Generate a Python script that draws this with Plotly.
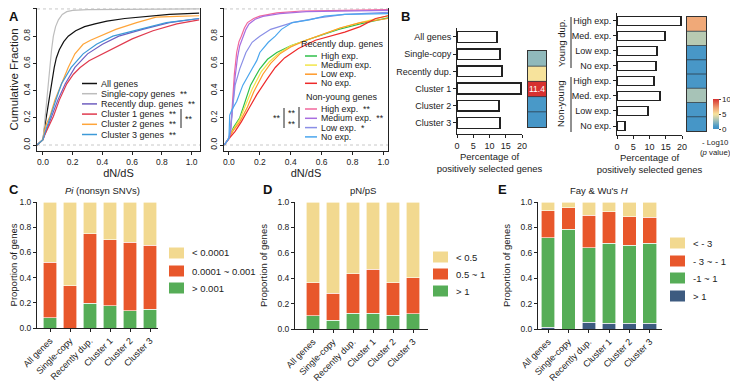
import plotly.graph_objects as go

# The page body keeps the browser's default 8px margin, so the figure is sized to fit the
# 738x384 window after that offset and all layout positions are given in window pixels.
OFF = 8
W, H = 738 - OFF, 384 - OFF
def px(x): return min(1.0, max(0.0, (x - OFF) / W))
def py(y): return min(1.0, max(0.0, 1 - (y - OFF) / H))

FONT = "Liberation Sans, Arial, sans-serif"
INK = "#222222"

# ---------------- Panel A (left): cumulative fraction of dN/dS ----------------
all_x = [-0.04, 0, 0.01, 0.02, 0.03, 0.042, 0.06, 0.076, 0.09, 0.11, 0.14, 0.17, 0.22, 0.28, 0.35, 0.43, 0.55, 0.7, 0.85, 1.05]
all_y = [0, 0.04, 0.12, 0.19, 0.26, 0.33, 0.46, 0.57, 0.64, 0.70, 0.76, 0.80, 0.84, 0.87, 0.89, 0.91, 0.93, 0.945, 0.96, 0.97]
single_x = [-0.04, 0, 0.01, 0.025, 0.035, 0.047, 0.058, 0.07, 0.085, 0.104, 0.13, 0.16, 0.2, 0.3, 1.05]
single_y = [0, 0.04, 0.15, 0.33, 0.46, 0.57, 0.70, 0.80, 0.87, 0.92, 0.96, 0.98, 0.99, 0.995, 1.0]
recent_x = [-0.04, 0, 0.01, 0.03, 0.06, 0.1, 0.15, 0.215, 0.3, 0.4, 0.51, 0.67, 0.85, 1.05]
recent_y = [0, 0.04, 0.07, 0.13, 0.22, 0.33, 0.45, 0.57, 0.67, 0.74, 0.80, 0.85, 0.90, 0.93]
c1_x = [-0.04, 0, 0.01, 0.03, 0.07, 0.11, 0.16, 0.205, 0.25, 0.31, 0.38, 0.45, 0.6, 0.74, 0.9, 1.05]
c1_y = [0, 0.04, 0.07, 0.12, 0.21, 0.33, 0.45, 0.52, 0.57, 0.62, 0.66, 0.70, 0.78, 0.84, 0.89, 0.92]
c2_x = [-0.04, 0, 0.01, 0.025, 0.047, 0.08, 0.125, 0.17, 0.215, 0.27, 0.32, 0.38, 0.49, 0.63, 0.76, 0.9, 1.05]
c2_y = [0, 0.04, 0.10, 0.16, 0.21, 0.33, 0.45, 0.57, 0.67, 0.74, 0.77, 0.80, 0.85, 0.90, 0.94, 0.945, 0.95]
c3_x = [-0.04, 0, 0.01, 0.03, 0.06, 0.09, 0.125, 0.19, 0.27, 0.36, 0.47, 0.65, 0.83, 1.05]
c3_y = [0, 0.04, 0.08, 0.14, 0.24, 0.34, 0.45, 0.57, 0.67, 0.74, 0.80, 0.85, 0.90, 0.93]

a_left_names = ["All genes", "Single-copy genes", "Recently dup. genes", "Cluster 1 genes", "Cluster 2 genes", "Cluster 3 genes"]
a_left_stars = ["", "**", "**", "**", "**", "**"]
a_left_colors = ["#111111", "#bdbdbd", "#6f5fc0", "#e03a4e", "#ffa53a", "#3d9ad8"]
a_left_x = [all_x, single_x, recent_x, c1_x, c2_x, c3_x]
a_left_y = [all_y, single_y, recent_y, c1_y, c2_y, c3_y]

# ---------------- Panel A (right) ----------------
rh_x = [-0.03, 0, 0.01, 0.03, 0.07, 0.104, 0.14, 0.2, 0.25, 0.31, 0.4, 0.5, 0.58, 0.71, 0.85, 1.03]
rh_y = [0, 0.05, 0.08, 0.13, 0.2, 0.32, 0.44, 0.56, 0.63, 0.68, 0.73, 0.77, 0.80, 0.85, 0.89, 0.935]
rm_x = [-0.03, 0, 0.01, 0.03, 0.07, 0.11, 0.15, 0.21, 0.26, 0.32, 0.4, 0.5, 0.6, 0.72, 0.85, 1.03]
rm_y = [0, 0.05, 0.08, 0.12, 0.19, 0.30, 0.41, 0.54, 0.61, 0.67, 0.73, 0.77, 0.81, 0.86, 0.90, 0.95]
rl_x = [-0.03, 0, 0.01, 0.03, 0.07, 0.12, 0.16, 0.22, 0.27, 0.33, 0.4, 0.5, 0.6, 0.72, 0.85, 1.03]
rl_y = [0, 0.05, 0.07, 0.11, 0.17, 0.28, 0.39, 0.52, 0.60, 0.67, 0.72, 0.77, 0.81, 0.86, 0.90, 0.93]
rn_x = [-0.03, 0, 0.01, 0.04, 0.08, 0.13, 0.18, 0.25, 0.3, 0.36, 0.45, 0.56, 0.65, 0.75, 0.85, 0.95, 1.03]
rn_y = [0, 0.05, 0.06, 0.1, 0.17, 0.27, 0.37, 0.49, 0.57, 0.64, 0.71, 0.77, 0.80, 0.83, 0.87, 0.93, 0.95]
nh_x = [-0.03, 0, 0.01, 0.022, 0.035, 0.05, 0.065, 0.08, 0.1, 0.12, 0.16, 0.2, 0.31, 0.47, 0.7, 1.03]
nh_y = [0, 0.05, 0.09, 0.32, 0.52, 0.68, 0.76, 0.80, 0.86, 0.90, 0.93, 0.947, 0.971, 0.985, 0.99, 0.995]
nm_x = [-0.03, 0, 0.01, 0.025, 0.04, 0.055, 0.07, 0.09, 0.11, 0.13, 0.17, 0.22, 0.33, 0.5, 0.7, 1.03]
nm_y = [0, 0.05, 0.09, 0.30, 0.50, 0.64, 0.73, 0.79, 0.85, 0.89, 0.925, 0.945, 0.965, 0.98, 0.985, 0.99]
nl_x = [-0.03, 0, 0.01, 0.025, 0.04, 0.07, 0.11, 0.15, 0.2, 0.27, 0.41, 0.58, 0.75, 1.03]
nl_y = [0, 0.05, 0.12, 0.28, 0.44, 0.56, 0.68, 0.755, 0.80, 0.85, 0.90, 0.935, 0.96, 0.975]
nn_x = [-0.03, 0, 0.005, 0.02, 0.05, 0.09, 0.15, 0.18, 0.2, 0.255, 0.3, 0.34, 0.41, 0.52, 0.62, 0.75, 1.03]
nn_y = [0, 0.05, 0.22, 0.26, 0.32, 0.44, 0.56, 0.62, 0.68, 0.755, 0.80, 0.85, 0.90, 0.92, 0.947, 0.96, 0.965]

a_right_recent_names = ["High exp.", "Medium exp.", "Low exp.", "No exp."]
a_right_recent_colors = ["#2fbf4a", "#f2e54a", "#ff9a2a", "#ee2a2a"]
a_right_recent_x = [rh_x, rm_x, rl_x, rn_x]
a_right_recent_y = [rh_y, rm_y, rl_y, rn_y]
a_right_non_names = ["High exp.", "Medium exp.", "Low exp.", "No exp."]
a_right_non_stars = ["**", "**", "*", ""]
a_right_non_colors = ["#f2679c", "#a86ee0", "#8a8fe6", "#4aa6ee"]
a_right_non_x = [nh_x, nm_x, nl_x, nn_x]
a_right_non_y = [nh_y, nm_y, nl_y, nn_y]

# ---------------- Panel B ----------------
b_left_cats = ["All genes", "Single-copy", "Recently dup.", "Cluster 1", "Cluster 2", "Cluster 3"]
b_left_vals = [12.3, 13.2, 13.8, 19.7, 12.9, 13.2]
b_left_heat_rows = ["Single-copy", "Recently dup.", "Cluster 1", "Cluster 2", "Cluster 3"]
b_left_heat_vals = [2.5, 5.0, 11.4, 0.8, 0.6]

b_right_cats = ["High exp.", "Med. exp.", "Low exp.", "No exp.", "High exp.", "Med. exp.", "Low exp.", "No exp."]
b_right_vals = [19.7, 14.8, 12.3, 12.0, 11.4, 13.2, 9.6, 2.4]
b_right_heat_vals = [6.8, 3.4, 0.7, 0.7, 0.7, 3.0, 0.7, 0.6]

heat_scale = [[0.0, "#3d8fc6"], [0.1, "#4c9bc8"], [0.3, "#a7c3b7"], [0.45, "#e7dca4"],
              [0.5, "#f7e39c"], [0.7, "#efa274"], [1.0, "#d7312f"]]

# ---------------- Panels C, D, E ----------------
groups = ["All genes", "Single-copy", "Recently dup.", "Cluster 1", "Cluster 2", "Cluster 3"]
YEL, RED, GRN, NAV = "#f2d990", "#e8572b", "#56ad57", "#3d5b80"

pi_names = ["< 0.0001", "0.0001 ~ 0.001", "> 0.001"]
pi_low = [0.48, 0.665, 0.25, 0.30, 0.32, 0.345]
pi_mid = [0.44, 0.335, 0.555, 0.525, 0.545, 0.505]
pi_high = [0.08, 0.0, 0.195, 0.175, 0.135, 0.15]

pnps_names = ["< 0.5", "0.5 ~ 1", "> 1"]
pnps_low = [0.635, 0.72, 0.565, 0.53, 0.635, 0.595]
pnps_mid = [0.26, 0.21, 0.31, 0.345, 0.255, 0.285]
pnps_high = [0.105, 0.07, 0.125, 0.125, 0.11, 0.12]

h_names = ["< - 3", "- 3 ~ - 1", "-1 ~ 1", "> 1"]
h_lt3 = [0.07, 0.045, 0.105, 0.075, 0.115, 0.12]
h_3to1 = [0.21, 0.17, 0.255, 0.25, 0.225, 0.205]
h_1to1 = [0.705, 0.785, 0.585, 0.63, 0.615, 0.63]
h_gt1 = [0.015, 0.0, 0.055, 0.045, 0.045, 0.045]

fig = go.Figure()
shapes, annos = [], []

def txt(x, y, s, size=9, xa="left", ya="middle", angle=0, color=INK, bold=False):
    if bold:
        s = "<b>" + s + "</b>"
    annos.append(dict(x=px(x), y=py(y), xref="paper", yref="paper", text=s, showarrow=False,
                      xanchor=xa, yanchor=ya, textangle=angle, borderpad=0,
                      font=dict(size=size, color=color)))

def pline(x0, y0, x1, y1, color=INK, width=1, dash="solid"):
    shapes.append(dict(type="line", xref="paper", yref="paper", x0=px(x0), y0=py(y0), x1=px(x1), y1=py(y1),
                       line=dict(color=color, width=width, dash=dash)))

def prect(x0, y0, x1, y1, color):
    shapes.append(dict(type="rect", xref="paper", yref="paper", x0=px(x0), y0=py(y0), x1=px(x1), y1=py(y1),
                       line=dict(width=0), fillcolor=color))

# A traces
for xs, ys, c in zip(a_left_x, a_left_y, a_left_colors):
    fig.add_trace(go.Scatter(x=xs, y=ys, mode="lines", line=dict(color=c, width=1.2),
                             xaxis="x", yaxis="y", showlegend=False, hoverinfo="skip"))
for xs, ys, c in zip(a_right_recent_x, a_right_recent_y, a_right_recent_colors):
    fig.add_trace(go.Scatter(x=xs, y=ys, mode="lines", line=dict(color=c, width=1.2),
                             xaxis="x2", yaxis="y2", showlegend=False, hoverinfo="skip"))
for xs, ys, c in zip(a_right_non_x, a_right_non_y, a_right_non_colors):
    fig.add_trace(go.Scatter(x=xs, y=ys, mode="lines", line=dict(color=c, width=1.2),
                             xaxis="x2", yaxis="y2", showlegend=False, hoverinfo="skip"))

for xr, yr in (("x", "y"), ("x2", "y2")):
    for v in (0, 1):
        shapes.append(dict(type="line", xref=xr + " domain", yref=yr, x0=0, x1=1, y0=v, y1=v, layer="below",
                           line=dict(color="#c8c8c8", width=1, dash="dot")))

# A-left legend
for i, (n, s, c) in enumerate(zip(a_left_names, a_left_stars, a_left_colors)):
    yy = 83.5 + 10.2 * i
    pline(82, yy, 97, yy, c, 1.5)
    txt(100, yy, n + ("  " + s if s else ""), 9)
pline(181, 109, 181, 128)
txt(184, 118.5, "**", 9)

# A-right legend
txt(300, 44, "Recently dup. genes", 9)
for i, (n, c) in enumerate(zip(a_right_recent_names, a_right_recent_colors)):
    yy = 56 + 9.1 * i
    pline(305, yy, 317, yy, c, 1.5)
    txt(320, yy, n, 8.8)
txt(305, 97, "Non-young genes", 9)
for i, (n, s, c) in enumerate(zip(a_right_non_names, a_right_non_stars, a_right_non_colors)):
    yy = 109 + 9.3 * i
    pline(305, yy, 317, yy, c, 1.5)
    txt(320, yy, n + ("  " + s if s else ""), 8.8)
txt(282, 118, "**", 9, xa="right")
pline(284, 108, 284, 128)
pline(299, 107, 299, 128)
txt(297, 113, "**", 9, xa="right")
txt(297, 124, "**", 9, xa="right")

# B bars
fig.add_trace(go.Bar(y=list(range(len(b_left_cats))), x=b_left_vals, orientation="h", width=0.62,
                     marker=dict(color="white", line=dict(color=INK, width=1.5)),
                     xaxis="x3", yaxis="y3", showlegend=False, hoverinfo="skip"))
fig.add_trace(go.Heatmap(z=[[v] for v in b_left_heat_vals], x=[0], y=list(range(len(b_left_heat_vals))),
                         coloraxis="coloraxis", xaxis="x4", yaxis="y4", hoverinfo="skip"))
fig.add_trace(go.Bar(y=list(range(len(b_right_cats))), x=b_right_vals, orientation="h", width=0.62,
                     marker=dict(color="white", line=dict(color=INK, width=1.5)),
                     xaxis="x5", yaxis="y5", showlegend=False, hoverinfo="skip"))
fig.add_trace(go.Heatmap(z=[[v] for v in b_right_heat_vals], x=[0], y=list(range(len(b_right_heat_vals))),
                         coloraxis="coloraxis", xaxis="x6", yaxis="y6", hoverinfo="skip"))

for xr, yr, n in (("x4", "y4", len(b_left_heat_vals)), ("x6", "y6", len(b_right_heat_vals))):
    for i in range(n - 1):
        shapes.append(dict(type="line", xref=xr, yref=yr, x0=-0.5, x1=0.5, y0=i + 0.5, y1=i + 0.5,
                           line=dict(color="#2b3a48", width=0.8)))
imax = b_left_heat_vals.index(max(b_left_heat_vals))
annos.append(dict(x=0, y=imax, xref="x4", yref="y4", text=f"{b_left_heat_vals[imax]:.1f}", showarrow=False,
                  font=dict(size=8.5, color="white")))

# B-right group brackets
pline(571, 17, 571, 68)
pline(571, 77, 571, 132)
txt(561, 43, "Young dup.", 9.5, xa="center", angle=-90)
txt(561, 104, "Non-young", 9.5, xa="center", angle=-90)
txt(715, 142, "- Log10", 7.8, xa="center")
txt(715, 152, "(<i>p</i> value)", 7.8, xa="center")

# C, D, E stacked bars
def stack(xr, yr, segs):
    for vals, c in segs:
        fig.add_trace(go.Bar(x=groups, y=vals, marker=dict(color=c, line=dict(color="white", width=0.6)),
                             width=0.67, xaxis=xr, yaxis=yr, showlegend=False, hoverinfo="skip"))

stack("x7", "y7", [(pi_high, GRN), (pi_mid, RED), (pi_low, YEL)])
stack("x8", "y8", [(pnps_high, GRN), (pnps_mid, RED), (pnps_low, YEL)])
stack("x9", "y9", [(h_gt1, NAV), (h_1to1, GRN), (h_3to1, RED), (h_lt3, YEL)])

def box_legend(x0, ys, names, colors):
    for yy, n, c in zip(ys, names, colors):
        prect(x0, yy - 5.5, x0 + 15, yy + 5.5, c)
        txt(x0 + 22, yy, n, 9.5)

box_legend(169, [253, 271, 288], pi_names, [YEL, RED, GRN])
box_legend(433, [257, 274, 291], pnps_names, [YEL, RED, GRN])
box_legend(670, [243, 261, 278, 296], h_names, [YEL, RED, GRN, NAV])

txt(102, 190, "<i>Pi</i> (nonsyn SNVs)", 9.5, xa="center")
txt(363, 190, "pN/pS", 9.5, xa="center")
txt(599, 190, "Fay &amp; Wu's <i>H</i>", 9.5, xa="center")

# panel letters
for L, x, y in (("A", 8, 16), ("B", 400, 16), ("C", 8, 189), ("D", 262, 189), ("E", 497, 189)):
    txt(x, y, L, 13, bold=True, color="#111")

def axbase(**kw):
    d = dict(showline=True, linecolor=INK, linewidth=1, ticks="outside", ticklen=3, tickwidth=1,
             tickcolor=INK, showgrid=False, zeroline=False, tickfont=dict(size=8.5, color=INK),
             fixedrange=True, automargin=False)
    d.update(kw)
    return d

ttl = lambda s, size=11, st=4: dict(text=s, font=dict(size=size, color=INK), standoff=st)

layout = dict(
    width=W, height=H, autosize=False, margin=dict(l=0, r=0, t=0, b=0, pad=0, autoexpand=False),
    paper_bgcolor="white", plot_bgcolor="white", barmode="stack", bargap=0.3,
    font=dict(family=FONT, color=INK),
    showlegend=False,
    # A-left
    xaxis=axbase(domain=[px(37), px(200)], range=[-0.04, 1.056], tickvals=[0, 0.2, 0.4, 0.6, 0.8, 1.0],
                 tickformat=".1f", mirror=True, anchor="y", title=ttl("dN/dS", 11, 3)),
    yaxis=axbase(domain=[py(151), py(8)], range=[-0.044, 1.007], tickvals=[0, 0.2, 0.4, 0.6, 0.8, 1.0],
                 tickformat=".1f", tickangle=-90, mirror=True, anchor="x", title=ttl("Cumulative Fraction", 11.5, 5)),
    # A-right
    xaxis2=axbase(domain=[px(224), px(388)], range=[-0.032, 1.03], tickvals=[0, 0.2, 0.4, 0.6, 0.8, 1.0],
                  tickformat=".1f", mirror=True, anchor="y2", title=ttl("dN/dS", 11, 3)),
    yaxis2=axbase(domain=[py(151), py(8)], range=[-0.044, 1.007], tickvals=[0, 0.2, 0.4, 0.6, 0.8, 1.0],
                  tickformat=".1f", tickangle=-90, mirror=True, anchor="x2"),
    # B-left bars
    xaxis3=axbase(domain=[px(457), px(522)], range=[0, 20], tickvals=[0, 5, 10, 15, 20], anchor="y3",
                  tickfont=dict(size=9, color=INK),
                  title=ttl("Percentage of<br>positively selected genes", 9.5, 2)),
    yaxis3=axbase(domain=[py(134), py(28)], range=[5.64, -0.52], tickvals=list(range(len(b_left_cats))),
                  ticktext=b_left_cats, anchor="x3", tickfont=dict(size=9, color=INK)),
    # B-left heat
    xaxis4=dict(domain=[px(528), px(546)], range=[-0.5, 0.5], showticklabels=False, ticks="", showgrid=False,
                zeroline=False, showline=True, mirror=True, linecolor="#333", linewidth=1, anchor="y4"),
    yaxis4=dict(domain=[py(127), py(51)], range=[len(b_left_heat_vals) - 0.5, -0.5], showticklabels=False,
                ticks="", showgrid=False, zeroline=False, showline=True, mirror=True, linecolor="#333",
                linewidth=1, anchor="x4"),
    # B-right bars
    xaxis5=axbase(domain=[px(617), px(682)], range=[0, 20], tickvals=[0, 5, 10, 15, 20], anchor="y5",
                  tickfont=dict(size=9, color=INK),
                  title=ttl("Percentage of<br>positively selected genes", 9.5, 2)),
    yaxis5=axbase(domain=[py(135), py(13)], range=[7.6, -0.53], tickvals=list(range(len(b_right_cats))),
                  ticktext=b_right_cats, anchor="x5", tickfont=dict(size=9, color=INK)),
    # B-right heat
    xaxis6=dict(domain=[px(687), px(706)], range=[-0.5, 0.5], showticklabels=False, ticks="", showgrid=False,
                zeroline=False, showline=True, mirror=True, linecolor="#333", linewidth=1, anchor="y6"),
    yaxis6=dict(domain=[py(131), py(17)], range=[len(b_right_heat_vals) - 0.5, -0.5], showticklabels=False,
                ticks="", showgrid=False, zeroline=False, showline=True, mirror=True, linecolor="#333",
                linewidth=1, anchor="x6"),
    coloraxis=dict(cmin=0, cmax=10, colorscale=heat_scale,
                   colorbar=dict(x=px(713), xanchor="left", xref="paper", y=py(114), yanchor="middle",
                                 yref="paper", len=30, lenmode="pixels",
                                 thickness=6, thicknessmode="pixels", outlinewidth=0, xpad=0, ypad=0,
                                 tickvals=[0, 5, 10], ticks="outside", ticklen=2,
                                 tickfont=dict(size=8, color=INK))),
    # C
    xaxis7=axbase(domain=[px(37), px(158)], range=[-0.65, 5.4], tickangle=-45, anchor="y7",
                  tickfont=dict(size=9, color=INK)),
    yaxis7=axbase(domain=[py(328), py(202)], range=[0, 1], tickvals=[0, 0.2, 0.4, 0.6, 0.8, 1.0],
                  tickformat=".1f", anchor="x7", title=ttl("Proportion of genes", 9.5, 3)),
    # D
    xaxis8=axbase(domain=[px(295), px(428)], range=[-0.9, 5.75], tickangle=-45, anchor="y8",
                  tickfont=dict(size=9, color=INK)),
    yaxis8=axbase(domain=[py(329), py(202)], range=[0, 1], tickvals=[0, 0.2, 0.4, 0.6, 0.8, 1.0],
                  tickformat=".1f", anchor="x8", title=ttl("Proportion of genes", 9.5, 8)),
    # E
    xaxis9=axbase(domain=[px(538), px(662)], range=[-0.5, 5.6], tickangle=-45, anchor="y9",
                  tickfont=dict(size=9, color=INK)),
    yaxis9=axbase(domain=[py(329), py(202)], range=[0, 1], tickvals=[0, 0.2, 0.4, 0.6, 0.8, 1.0],
                  tickformat=".1f", anchor="x9", title=ttl("Proportion of genes", 9.5, 8)),
    shapes=shapes, annotations=annos,
)
fig.update_layout(**layout)
fig.write_html("out.html")
